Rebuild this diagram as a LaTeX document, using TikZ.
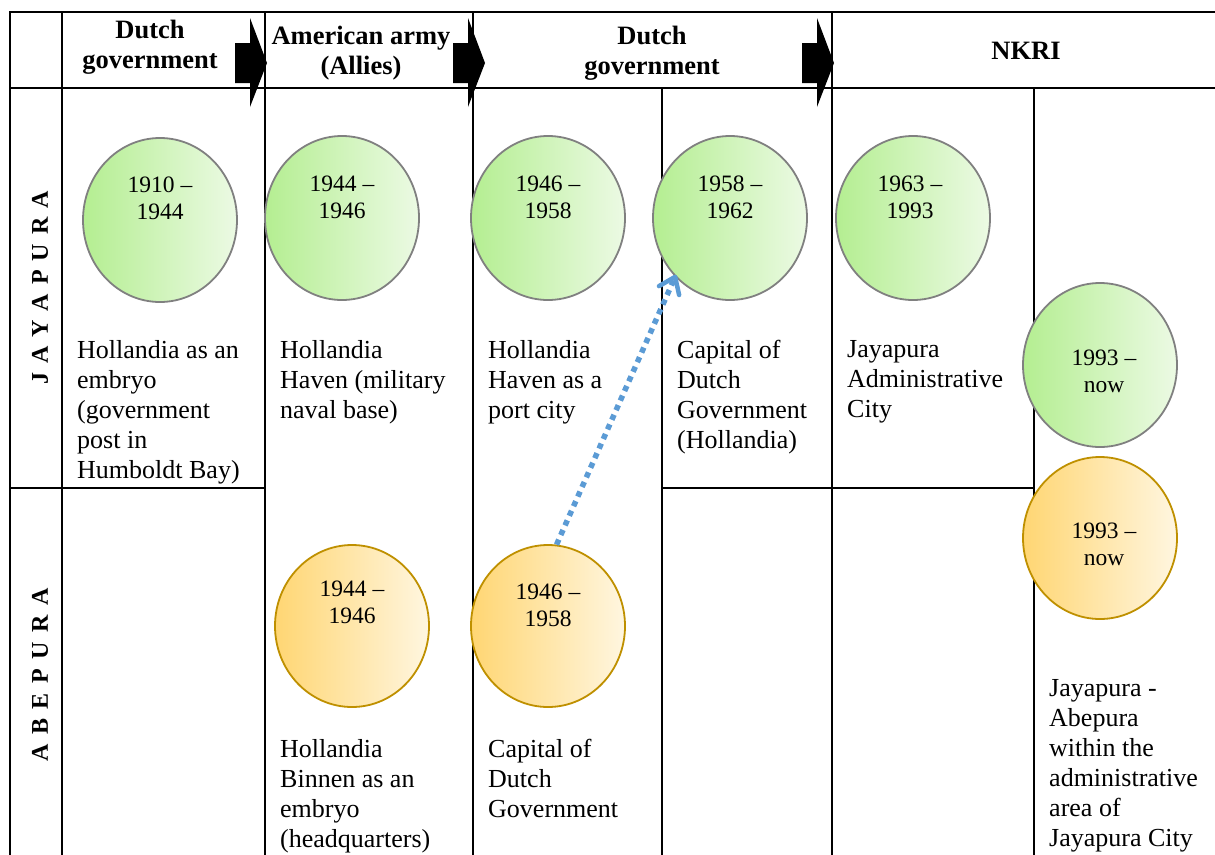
\documentclass[tikz,border=0pt]{standalone}
\usepackage{fontspec}
\setmainfont{Liberation Serif}
\usetikzlibrary{shapes.geometric,arrows.meta,calc}
\definecolor{gL}{RGB}{180,238,145}
\definecolor{gR}{RGB}{236,250,228}
\definecolor{oL}{RGB}{255,214,115}
\definecolor{oR}{RGB}{255,246,224}
\definecolor{oB}{RGB}{191,144,0}
\definecolor{gB}{RGB}{128,128,128}
\definecolor{blu}{RGB}{91,155,213}
\begin{document}
\begin{tikzpicture}[x=1pt,y=-1pt,
 grid/.style={line width=2.2pt, line cap=rect},
 gcirc/.style={ellipse, draw=gB, line width=1.8pt, left color=gL, right color=gR, minimum width=154pt, minimum height=164pt, inner sep=0pt},
 ocirc/.style={ellipse, draw=oB, line width=1.8pt, left color=oL, right color=oR, minimum width=154pt, minimum height=162pt, inner sep=0pt},
 yr/.style={font=\fontsize{23.5}{27}\selectfont, align=center, inner sep=0pt},
 body/.style={font=\fontsize{26}{30}\selectfont, align=left, anchor=north west, inner sep=0pt},
 head/.style={font=\fontsize{26.5}{30.5}\selectfont\bfseries, align=center, inner sep=0pt},
 side/.style={font=\fontsize{24}{24}\selectfont\bfseries, rotate=90, inner sep=0pt},
 harrow/.style={fill=black}
]
\useasboundingbox (0,0) rectangle (1215,854);
\fill[white] (0,0) rectangle (1215,854);

% table grid
\draw[grid] (10,12) -- (1215,12);
\draw[grid] (10,88) -- (1215,88);
\draw[grid] (10,12) -- (10,854);
\draw[grid] (62,12) -- (62,854);
\draw[grid] (265,12) -- (265,854);
\draw[grid] (473,12) -- (473,854);
\draw[grid] (662,88) -- (662,854);
\draw[grid] (832,12) -- (832,854);
\draw[grid] (1034,88) -- (1034,854);
\draw[grid] (10,488) -- (265,488);
\draw[grid] (662,488) -- (1034,488);

% header arrows
\foreach \t in {267,485,834}{
  \fill[harrow] (\t-32,43) -- (\t-17,43) -- (\t-17,18) -- (\t,63) -- (\t-17,107) -- (\t-17,83) -- (\t-32,83) -- cycle;
}

% headers
\node[head] (h1) at (150,47) {Dutch\\government};
\node[head] (h2) at (361,53) {American army\\(Allies)};
\node[head] (h3) at (652,53) {Dutch\\government};
\node[head] (h4) at (1026,51) {NKRI};

% side labels
\node[side] (sj) at (40,288) {J\hspace{9pt}A\hspace{9pt}Y\hspace{9pt}A\hspace{9pt}P\hspace{9pt}U\hspace{9pt}R\hspace{9pt}A};
\node[side] (sa) at (40,675) {A\hspace{9.5pt}B\hspace{9.5pt}E\hspace{9.5pt}P\hspace{9.5pt}U\hspace{9.5pt}R\hspace{9.5pt}A};

% green circles
\node[gcirc] (g1) at (160,220) {};
\node[gcirc] (g2) at (342,218) {};
\node[gcirc] (g3) at (548,218) {};
\node[gcirc] (g4) at (730,218) {};
\node[gcirc] (g5) at (913,218) {};
\node[gcirc] (g6) at (1100,365) {};
% orange circles
\node[ocirc] (o1) at (352,626) {};
\node[ocirc] (o2) at (548,626) {};
\node[ocirc] (o6) at (1100,538) {};

% circle texts
\node[yr] (t1) at (160,198) {1910 –\\1944};
\node[yr] (t2) at (342,197) {1944 –\\1946};
\node[yr] (t3) at (548,197) {1946 –\\1958};
\node[yr] (t4) at (730,197) {1958 –\\1962};
\node[yr] (t5) at (910,197) {1963 –\\1993};
\node[yr] (t6) at (1104,371) {1993 –\\now};
\node[yr] (t7) at (352,602) {1944 –\\1946};
\node[yr] (t8) at (548,605) {1946 –\\1958};
\node[yr] (t9) at (1104,544) {1993 –\\now};

% body texts
\node[body] (b1) at (77,340) {Hollandia as an\\embryo\\(government\\post in\\Humboldt Bay)};
\node[body] (b2) at (280,340) {Hollandia\\Haven (military\\naval base)};
\node[body] (b3) at (488,340) {Hollandia\\Haven as a\\port city};
\node[body] (b4) at (677,340) {Capital of\\Dutch\\Government\\(Hollandia)};
\node[body] (b5) at (847,340) {Jayapura\\Administrative\\City};
\node[body] (b6) at (280,739) {Hollandia\\Binnen as an\\embryo\\(headquarters)};
\node[body] (b7) at (488,739) {Capital of\\Dutch\\Government};
\node[body] (b8) at (1049,679) {Jayapura -\\Abepura\\within the\\administrative\\area of\\Jayapura City};

% dotted connector
\coordinate (ae) at (g4.227);
\coordinate (as) at (o2.84);
\draw[blu, line width=5.5pt, dash pattern=on 5.5pt off 5pt] (as) -- ($(ae)!4pt!(as)$);
\draw[blu, line width=4.5pt, line cap=round, line join=round] ($(ae)!15pt!(as)!11pt!90:(as)$) -- (ae) -- ($(ae)!15pt!(as)!11pt!-90:(as)$);
\end{tikzpicture}
\end{document}
